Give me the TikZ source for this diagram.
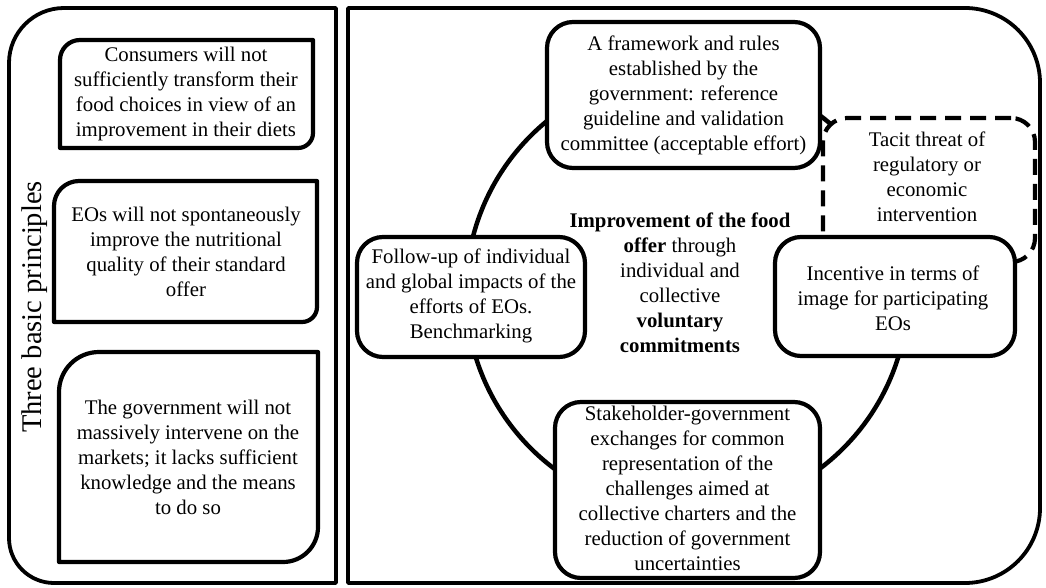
\documentclass[tikz,border=0pt]{standalone}
\usepackage{fontspec}
\setmainfont{Liberation Serif}
\newcommand{\partround}[6]{% x1, ytop, x2, ybottom, r top-left, r bottom-right
  \draw[boxline] (#3,#2) -- (#1+#5,#2) arc[start angle=90,end angle=180,radius=#5]
    -- (#1,#4) -- (#3-#6,#4) arc[start angle=270,end angle=360,radius=#6] -- cycle;}
\begin{document}
\begin{tikzpicture}[x=1pt,y=1pt,
  panel/.style={line width=3.8pt, line join=round},
  boxline/.style={line width=4.2pt, line join=round},
  rbox/.style={draw, line width=4.2pt, fill=white, rounded corners=26pt, inner sep=0pt},
  txt/.style={align=center, font=\fontsize{20.8}{25}\selectfont, inner sep=0pt}]
\useasboundingbox (0,0) rectangle (1046,-588);
% left panel
\draw[panel] (336,-8) -- (64,-8) arc[start angle=90,end angle=180,radius=55]
  -- (9,-538) arc[start angle=180,end angle=270,radius=45] -- (336,-583) -- cycle;
% right panel
\draw[panel] (348,-8) -- (965,-8) arc[start angle=90,end angle=0,radius=75]
  -- (1040,-508) arc[start angle=0,end angle=-90,radius=75] -- (348,-583) -- cycle;
% left boxes
\partround{60}{-40}{313}{-148}{20}{15}
\partround{54}{-181}{317}{-322}{25}{15}
\partround{59}{-352}{318}{-562}{40}{35}
\node[txt] (p1) at (186,-94) {Consumers will not\\ sufficiently transform their\\ food choices in view of an\\ improvement in their diets};
\node[txt] (p2) at (186,-252) {EOs will not spontaneously\\ improve the nutritional\\ quality of their standard\\ offer};
\node[txt] (p3) at (188,-457) {The government will not\\ massively intervene on the\\ markets; it lacks sufficient\\ knowledge and the means\\ to do so};
\node[rotate=90, font=\fontsize{28.5}{32}\selectfont, inner sep=0pt] (title) at (35,-307) {Three basic principles};
% circle
\node[draw, circle, line width=4.5pt, minimum size=442pt, inner sep=0pt] (ring) at (687,-292) {};
% dashed box
\node[draw, line width=4.2pt, fill=white, rounded corners=24pt, dash pattern=on 16pt off 9pt,
  minimum width=212pt, minimum height=144pt, inner sep=0pt] (threatbox) at (929,-190) {};
\node[txt] (threat) at (927,-177) {Tacit threat of\\ regulatory or\\ economic\\ intervention};
% boxes on circle
\node[rbox, minimum width=273pt, minimum height=146pt] (frame) at (683.5,-95) {};
\node[txt] (frametxt) at (683.5,-95) {A framework and rules\\ established by the\\ government: reference\\ guideline and validation\\ committee (acceptable effort)};
\node[rbox, minimum width=228pt, minimum height=120pt] (follow) at (471,-297) {};
\node[txt] (followtxt) at (471,-296) {Follow-up of individual\\ and global impacts of the\\ efforts of EOs.\\ Benchmarking};
\node[rbox, minimum width=240pt, minimum height=119pt] (incent) at (895,-296.5) {};
\node[txt] (incenttxt) at (893,-298) {Incentive in terms of\\ image for participating\\ EOs};
\node[rbox, minimum width=265pt, minimum height=176pt] (stake) at (687.5,-490) {};
\node[txt] (staketxt) at (687.5,-488) {Stakeholder-government\\ exchanges for common\\ representation of the\\ challenges aimed at\\ collective charters and the\\ reduction of government\\ uncertainties};
% centre text
\node[txt] (centre) at (680,-283) {\textbf{Improvement of the food}\\ \textbf{offer} through\\ individual and\\ collective\\ \textbf{voluntary}\\ \textbf{commitments}};
\end{tikzpicture}
\end{document}
